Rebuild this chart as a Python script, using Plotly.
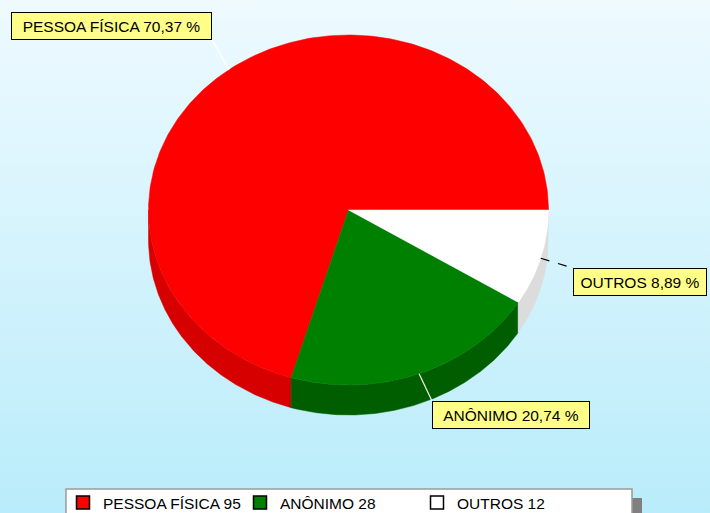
import numpy as np
import plotly.graph_objects as go

# ---- data ----
labels = ["PESSOA FÍSICA", "ANÔNIMO", "OUTROS"]
counts = [95, 28, 12]

# ---- styles / layout ----
top_colors = ["#ff0000", "#008000", "#ffffff"]
side_colors = ["#d60000", "#005e00", "#dcdcdc"]
leader_colors = ["#ffffff", "#f2f2f2", "#000000"]
leader_dash = ["solid", "solid", "dash"]
label_centers = [(111.5, 26), (511, 415), (639.5, 281.5)]
label_sizes = [(201, 28), (158, 28), (134, 28)]
label_anchor = [(212, 40), (432, 401), (573, 268)]

W, H = 710, 513
cx, cy, rx, ry, depth = 348.5, 210.0, 200.0, 175.0, 30.0
FONT = "Liberation Sans, Arial, sans-serif"
FSIZE = 15.5

total = sum(counts)
fracs = [c / total for c in counts]
pct_text = [f"{lab} " + f"{f*100:.2f}".replace(".", ",") + " %" for lab, f in zip(labels, fracs)]
bounds = np.concatenate([[0.0], np.cumsum(fracs) * 360.0])


def rim(theta, dy=0.0):
    t = np.radians(theta)
    return cx + rx * np.cos(t), cy - ry * np.sin(t) + dy


fig = go.Figure()

# background gradient
fig.add_trace(go.Scatter(
    x=[0, W, W, 0, 0], y=[0, 0, H, H, 0], mode="lines", fill="toself",
    line=dict(width=0), fillgradient=dict(type="vertical",
                                          colorscale=[[0, "#b9ecfa"], [1, "#eefaff"]]),
    hoverinfo="skip", showlegend=False))

# 3D sides (visible part: 180..360 deg)
for i in range(len(labels)):
    lo = max(bounds[i], 180.0)
    hi = min(bounds[i + 1], 360.0)
    if hi <= lo:
        continue
    th = np.linspace(lo, hi, 200)
    xt, yt = rim(th)
    xb, yb = rim(th[::-1], depth)
    xs = np.concatenate([xt, xb, xt[:1]])
    ys = np.concatenate([yt, yb, yt[:1]])
    fig.add_trace(go.Scatter(x=xs, y=ys, mode="lines", fill="toself",
                             fillcolor=side_colors[i],
                             line=dict(color=side_colors[i], width=0.5),
                             hoverinfo="skip", showlegend=False))

# top faces
for i in range(len(labels)):
    th = np.linspace(bounds[i], bounds[i + 1], 300)
    xa, ya = rim(th)
    xs = np.concatenate([[cx], xa, [cx]])
    ys = np.concatenate([[cy], ya, [cy]])
    fig.add_trace(go.Scatter(x=xs, y=ys, mode="lines", fill="toself",
                             fillcolor=top_colors[i],
                             line=dict(color=top_colors[i], width=0.5),
                             name=labels[i], hoverinfo="name", showlegend=False))

# leader lines
for i in range(len(labels)):
    mid = (bounds[i] + bounds[i + 1]) / 2
    x0, y0 = rim(mid)
    ax, ay = label_anchor[i]
    fig.add_trace(go.Scatter(x=[x0, ax], y=[y0, ay], mode="lines",
                             line=dict(color=leader_colors[i], width=1.2, dash=leader_dash[i]),
                             hoverinfo="skip", showlegend=False))

# legend entries
for i in range(len(labels)):
    fig.add_trace(go.Scatter(x=[None], y=[None], mode="markers",
                             marker=dict(symbol="square", size=13, color=top_colors[i],
                                         line=dict(color="black", width=1.5)),
                             name=f"{labels[i]} {counts[i]}"))

annotations = []
for i in range(len(labels)):
    (xc, yc), (bw, bh) = label_centers[i], label_sizes[i]
    annotations.append(dict(
        x=xc, y=yc, xref="x", yref="y", text=pct_text[i], showarrow=False,
        xanchor="center", yanchor="middle", width=bw - 2, height=bh - 2,
        bgcolor="#ffff88", bordercolor="#000000", borderwidth=1, borderpad=0,
        font=dict(family=FONT, size=FSIZE, color="#000000")))

shapes = [
    dict(type="rect", xref="x", yref="y", x0=76, y0=498, x1=642, y1=530,
         fillcolor="#808080", line=dict(width=0), layer="above"),
    dict(type="rect", xref="x", yref="y", x0=66, y0=489, x1=632, y1=530,
         fillcolor="#ffffff", line=dict(color="#9a9a9a", width=1.5), layer="above"),
]

fig.update_layout(
    width=W, height=H,
    margin=dict(l=0, r=0, t=0, b=0, autoexpand=False),
    paper_bgcolor="#ffffff", plot_bgcolor="rgba(0,0,0,0)",
    xaxis=dict(range=[0, W], visible=False, fixedrange=True),
    yaxis=dict(range=[H, 0], visible=False, fixedrange=True),
    annotations=annotations, shapes=shapes,
    showlegend=True,
    legend=dict(orientation="h", x=63 / W, y=1 - 486 / H, xanchor="left", yanchor="top",
                bgcolor="rgba(0,0,0,0)", borderwidth=0,
                entrywidth=132, entrywidthmode="pixels",
                font=dict(family=FONT, size=FSIZE, color="#000000"),
                itemclick=False, itemdoubleclick=False),
)

fig.write_html("out.html")
